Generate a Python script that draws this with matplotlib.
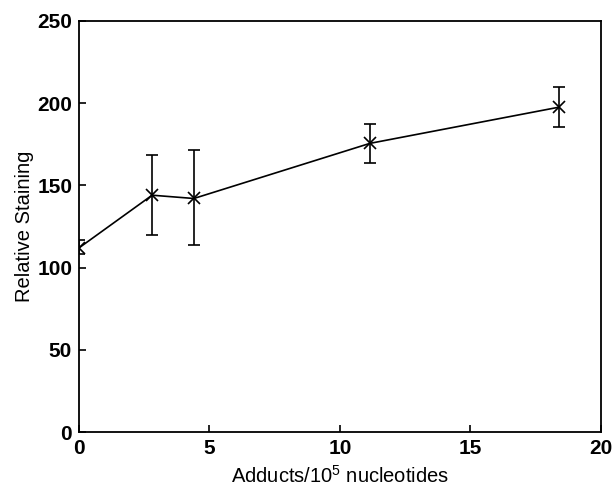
import matplotlib.pyplot as plt

plt.rcParams['font.family'] = ['Liberation Sans', 'DejaVu Sans']
plt.rcParams['mathtext.default'] = 'regular'

# data
adducts = [0.0, 2.8, 4.4, 11.15, 18.4]
staining = [112, 144, 142, 175.5, 197.5]
err_low = [4, 24, 28.5, 12, 12]
err_high = [5, 24.5, 29.5, 12, 12]
xticks = [0, 5, 10, 15, 20]
yticks = [0, 50, 100, 150, 200, 250]

fig = plt.figure(figsize=(6.13, 4.95), dpi=100)
ax = fig.add_axes([0.129, 0.127, 0.851, 0.831])

ax.errorbar(adducts, staining, yerr=[err_low, err_high], color='black',
            marker='x', markersize=8, markeredgewidth=1.2, linewidth=1.2,
            elinewidth=1.2, capsize=4, capthick=1.2)

ax.set_xlim(0, 20)
ax.set_ylim(0, 250)
ax.set_xticks(xticks, [str(t) for t in xticks], fontsize=15, fontweight='bold')
ax.set_yticks(yticks, [str(t) for t in yticks], fontsize=15, fontweight='bold')
ax.tick_params(direction='in', length=5, width=1.2, pad=5,
               top=False, right=False)
for sp in ax.spines.values():
    sp.set_linewidth(1.3)

ax.set_xlabel('Adducts/10$^5$ nucleotides', fontsize=14.5, labelpad=5)
ax.set_ylabel('Relative Staining', fontsize=14.5, labelpad=2)

fig.savefig('out.png', dpi=100)
